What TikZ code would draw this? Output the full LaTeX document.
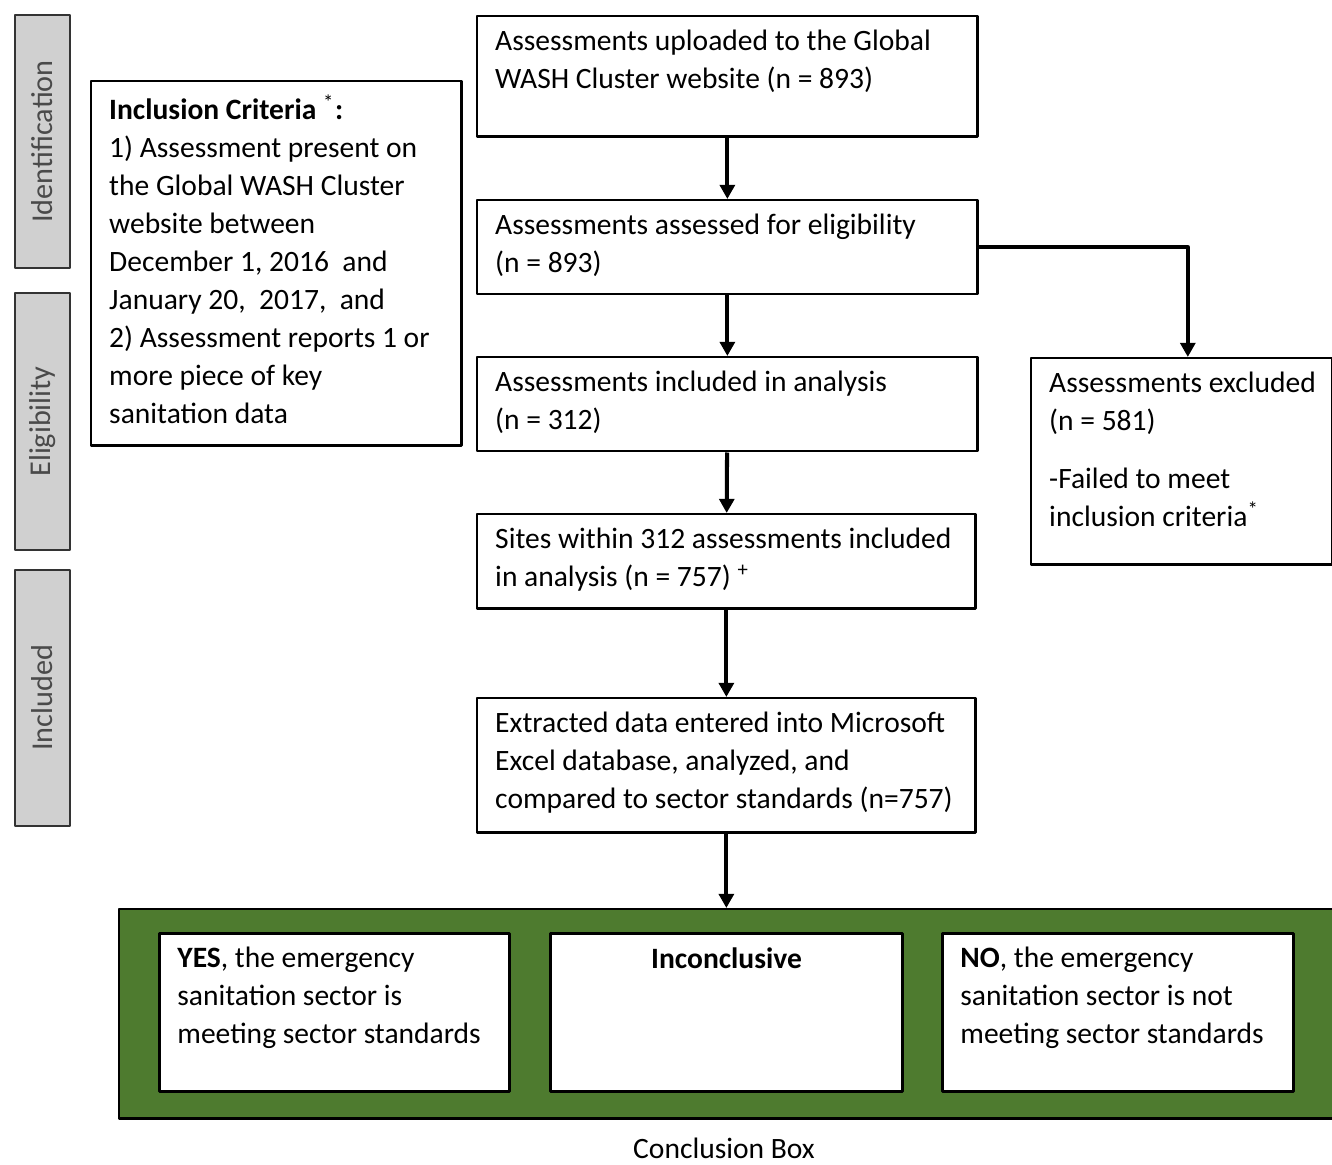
\documentclass[tikz,border=0pt]{standalone}
\usepackage{fontspec}
\setmainfont{Carlito}
\usepackage{tikz}
\usetikzlibrary{arrows.meta,positioning}
\definecolor{sidegray}{HTML}{D0D0D0}
\definecolor{sidetext}{HTML}{4A4A4A}
\definecolor{conclgreen}{HTML}{4E7B2F}
\tikzset{
  every picture/.style={line join=round, >={Triangle[width=4.2pt,length=4pt]}},
  flow/.style={draw, line width=0.7pt, anchor=north west, inner xsep=0.18cm, inner ysep=0.14cm, align=left, fill=white},
  side/.style={draw=black!80, line width=0.7pt, fill=sidegray, rotate=90, minimum height=0.55cm, inner sep=0pt, text=sidetext, font=\fontsize{8.6}{10}\selectfont},
  link/.style={->, line width=1.15pt},
}
\newcommand{\boxtext}[3]{\parbox[t][#1][t]{#2}{\raggedright #3}}

\begin{document}
\begin{tikzpicture}[x=0.01cm, y=-0.01cm, font=\fontsize{8.4}{10.8}\selectfont]
\useasboundingbox (0,0) rectangle (1332,1165);
% stage labels
\node[side, minimum width=2.53cm] (ident) at (42.5,141.5) {Identification};
\node[side, minimum width=2.57cm] (eligib) at (42.5,421.5) {Eligibility};
\node[side, minimum width=2.56cm] (inclu) at (42.5,698) {Included};
% criteria
\node[flow] (crit) at (90,80) {\boxtext{3.36cm}{3.34cm}{\textbf{Inclusion Criteria} \textsuperscript{*}\textbf{:}\\
1) Assessment present on\\ the Global WASH Cluster\\ website between\\ December 1, 2016 ~and\\
January 20, ~2017, ~and\\ 2) Assessment reports 1 or\\ more piece of key\\ sanitation data}};
% main flow
\node[flow] (upload) at (476,15) {\boxtext{0.92cm}{4.64cm}{Assessments uploaded to the Global\\ WASH Cluster website (n = 893)}};
\node[flow] (elig) at (476,199) {\boxtext{0.66cm}{4.64cm}{Assessments assessed for eligibility\\ (n = 893)}};
\node[flow] (incl) at (476,356) {\boxtext{0.66cm}{4.64cm}{Assessments included in analysis\\ (n = 312)}};
\node[flow] (sites) at (476,513) {\boxtext{0.66cm}{4.62cm}{Sites within 312 assessments included\\ in analysis (n = 757) \textsuperscript{+}}};
\node[flow] (extract) at (476,697) {\boxtext{1.06cm}{4.62cm}{Extracted data entered into Microsoft\\ Excel database, analyzed, and\\ compared to sector standards (n=757)}};
\node[flow] (excl) at (1030,357) {\boxtext{1.78cm}{2.65cm}{\mbox{Assessments excluded}\\ (n = 581)\\[0.2cm] -Failed to meet\\ inclusion criteria\textsuperscript{*}}};
% conclusion
\node[draw, line width=0.7pt, fill=conclgreen, anchor=north west, minimum width=12.14cm, minimum height=2.09cm, inner sep=0pt] (concl) at (118,908) {};
\node[flow, line width=0.8pt] (yes) at (158,932) {\boxtext{1.30cm}{3.14cm}{\textbf{YES}, the emergency\\ sanitation sector is\\ meeting sector standards}};
\node[flow, line width=0.8pt] (unsure) at (549,932) {\boxtext{1.30cm}{3.16cm}{\centering\textbf{Inconclusive}}};
\node[flow, line width=0.8pt] (no) at (941,932) {\boxtext{1.30cm}{3.15cm}{\textbf{NO}, the emergency\\ sanitation sector is not\\ meeting sector standards}};
\node (caption) at (724,1148) {Conclusion Box};
% arrows
\draw[link] (upload) -- (elig);
\draw[link] (elig) -- (incl);
\draw[link] (incl) -- (sites);
\draw[link] (sites) -- (extract);
\draw[link] (extract.south) -- (extract.south |- concl.north);
\draw[link] (elig.east) -| ([xshift=0.06cm]excl.north);
\end{tikzpicture}
\end{document}
